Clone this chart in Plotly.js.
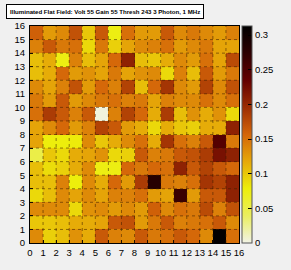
<!DOCTYPE html>
<html>
<head>
<meta charset="utf-8">
<script src="https://cdn.plot.ly/plotly-3.0.1.min.js"></script>
<style>html,body{margin:0;padding:0;background:#f0f0f0;}#chart{width:291px;height:270px;}</style>
</head>
<body>
<div id="chart"></div>
<script>
// Bin edges (0..16) for both axes
const xEdges = [0,1,2,3,4,5,6,7,8,9,10,11,12,13,14,15,16];
const yEdges = [0,1,2,3,4,5,6,7,8,9,10,11,12,13,14,15,16];
const tickVals = [0,1,2,3,4,5,6,7,8,9,10,11,12,13,14,15,16];
const cbTicks = [0,0.05,0.1,0.15,0.2,0.25,0.3];
const cbLabels = ['0','0.05','0.1','0.15','0.2','0.25','0.3'];

// Values per row (row0 = bottom row, columns 0..15)
const row0  = [0.135,0.095,0.105,0.130,0.115,0.165,0.140,0.135,0.165,0.145,0.150,0.165,0.155,0.135,0.310,0.150];
const row1  = [0.100,0.100,0.105,0.115,0.115,0.120,0.165,0.170,0.125,0.145,0.165,0.140,0.145,0.150,0.165,0.135];
const row2  = [0.135,0.135,0.135,0.090,0.130,0.135,0.125,0.135,0.125,0.160,0.135,0.150,0.145,0.175,0.140,0.170];
const row3  = [0.090,0.105,0.135,0.120,0.135,0.120,0.140,0.140,0.150,0.125,0.120,0.265,0.125,0.165,0.165,0.205];
const row4  = [0.105,0.105,0.140,0.078,0.135,0.115,0.155,0.125,0.185,0.280,0.145,0.140,0.150,0.190,0.180,0.205];
const row5  = [0.105,0.088,0.095,0.115,0.135,0.075,0.075,0.155,0.145,0.155,0.150,0.205,0.165,0.180,0.165,0.155];
const row6  = [0.050,0.100,0.090,0.115,0.120,0.130,0.090,0.095,0.165,0.140,0.145,0.165,0.170,0.185,0.220,0.205];
const row7  = [0.120,0.078,0.078,0.080,0.135,0.100,0.115,0.135,0.150,0.115,0.190,0.150,0.140,0.165,0.245,0.145];
const row8  = [0.120,0.135,0.155,0.125,0.140,0.180,0.165,0.125,0.115,0.090,0.115,0.100,0.095,0.115,0.115,0.205];
const row9  = [0.150,0.185,0.165,0.140,0.165,0.003,0.140,0.180,0.155,0.115,0.185,0.105,0.130,0.115,0.130,0.090];
const row10 = [0.145,0.125,0.165,0.125,0.135,0.145,0.150,0.140,0.145,0.120,0.140,0.135,0.135,0.150,0.135,0.150];
const row11 = [0.135,0.120,0.140,0.170,0.125,0.155,0.140,0.180,0.105,0.155,0.190,0.135,0.125,0.180,0.135,0.170];
const row12 = [0.105,0.115,0.155,0.125,0.130,0.120,0.145,0.120,0.130,0.135,0.090,0.140,0.105,0.165,0.125,0.145];
const row13 = [0.105,0.115,0.075,0.140,0.105,0.120,0.155,0.205,0.105,0.100,0.115,0.135,0.125,0.150,0.120,0.175];
const row14 = [0.140,0.165,0.145,0.150,0.090,0.145,0.095,0.120,0.135,0.140,0.150,0.125,0.135,0.145,0.120,0.120];
const row15 = [0.160,0.125,0.135,0.170,0.100,0.165,0.075,0.150,0.125,0.125,0.165,0.135,0.145,0.135,0.125,0.140];

const zRows = [row0,row1,row2,row3,row4,row5,row6,row7,row8,row9,row10,row11,row12,row13,row14,row15];

const titleText = 'Illuminated Flat Field: Volt 55 Gain 55 Thresh 243 3 Photon, 1 MHz';

const colorscale = [
  [0.000,'rgb(242,243,230)'],
  [0.125,'rgb(234,238,95)'],
  [0.250,'rgb(237,238,11)'],
  [0.375,'rgb(230,168,8)'],
  [0.500,'rgb(212,101,9)'],
  [0.625,'rgb(156,45,3)'],
  [0.750,'rgb(99,0,1)'],
  [0.875,'rgb(45,0,1)'],
  [1.000,'rgb(0,0,0)']
];

// dotted grid lines at inner bin edges
const gridShapes = [];
xEdges.slice(1, -1).forEach(v => gridShapes.push({type:'line', xref:'x', yref:'paper', x0:v, x1:v, y0:0, y1:1, line:{color:'rgba(60,30,0,0.55)', width:1, dash:'dot'}}));
yEdges.slice(1, -1).forEach(v => gridShapes.push({type:'line', xref:'paper', yref:'y', x0:0, x1:1, y0:v, y1:v, line:{color:'rgba(60,30,0,0.55)', width:1, dash:'dot'}}));

const font = {family:'"Liberation Sans", Arial, sans-serif', size:10, color:'#000'};

const trace = {
  type:'heatmap',
  x: xEdges,
  y: yEdges,
  z: zRows,
  zmin: 0,
  zmax: 0.313,
  colorscale: colorscale,
  hoverinfo:'skip',
  colorbar: {
    x: 1.015, xanchor:'left', xpad:0, ypad:0,
    y: 0.5, yanchor:'middle', len: 1.0, lenmode:'fraction',
    thickness: 10, thicknessmode:'pixels',
    outlinewidth: 1, outlinecolor:'#555',
    tickmode:'array', tickvals: cbTicks, ticktext: cbLabels,
    ticks:'inside', ticklen:4, tickcolor:'#000',
    tickfont: {family:font.family, size:9.5, color:'#000'}
  }
};

const layout = {
  width: 291, height: 270,
  paper_bgcolor:'#f0f0f0',
  plot_bgcolor:'#ffffff',
  margin: {l:30, r:38, t:26, b:27, pad:0},
  font: font,
  showlegend:false,
  xaxis: {
    range:[0,16], tickmode:'array', tickvals: tickVals, ticktext: tickVals.map(String),
    ticks:'inside', ticklen:3, tickcolor:'#000', showgrid:false, zeroline:false,
    showline:true, linecolor:'#000', linewidth:1, mirror:true,
    tickfont:{family:font.family, size:9.5, color:'#000'}, ticklabelstandoff:1
  },
  yaxis: {
    range:[0,16], tickmode:'array', tickvals: tickVals, ticktext: tickVals.map(String),
    ticks:'inside', ticklen:3, tickcolor:'#000', showgrid:false, zeroline:false,
    showline:true, linecolor:'#000', linewidth:1, mirror:true,
    tickfont:{family:font.family, size:9.5, color:'#000'}, ticklabelstandoff:2
  },
  shapes: gridShapes,
  annotations: [{
    text: '<b>' + titleText + '</b>',
    xref:'paper', yref:'paper', x:-0.117, y:1.101, xanchor:'left', yanchor:'top',
    showarrow:false, align:'left',
    font:{family:font.family, size:6.1, color:'#000'},
    bgcolor:'#ffffff', bordercolor:'#000', borderwidth:1, borderpad:3
  }]
};

Plotly.newPlot('chart', [trace], layout, {displayModeBar:false, staticPlot:true});
</script>
</body>
</html>
